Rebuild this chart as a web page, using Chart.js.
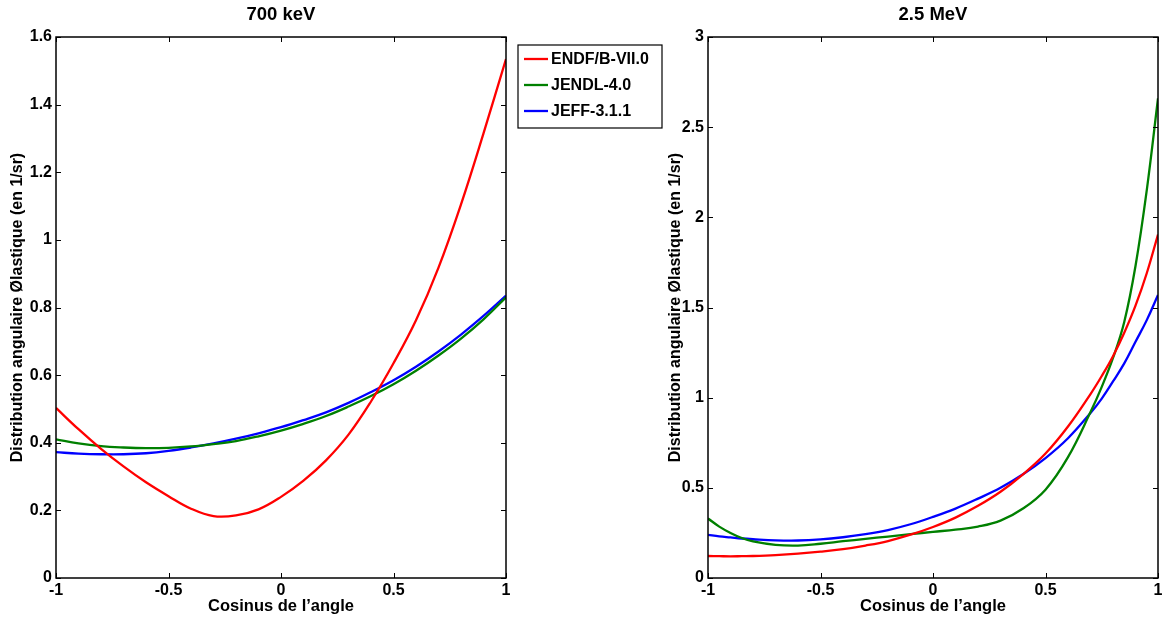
<!DOCTYPE html>
<html>
<head>
<meta charset="utf-8">
<script src="https://cdn.jsdelivr.net/npm/chart.js@4/dist/chart.umd.min.js"></script>
<style>
  body { margin: 0; background: #fff; }
  .wrap { position: absolute; top: 0; height: 621px; }
</style>
</head>
<body>
<div class="wrap" style="left:0;width:670px"><canvas id="left"></canvas></div>
<div class="wrap" style="left:660px;width:506px"><canvas id="right"></canvas></div>
<script>
// 700 keV
const cosLeft = [-1, -0.9, -0.8, -0.7, -0.6, -0.5, -0.4, -0.3, -0.2, -0.1, 0, 0.1, 0.2, 0.3, 0.4, 0.5, 0.6, 0.7, 0.8, 0.9, 1];
const endfLeft = [0.503, 0.44, 0.382, 0.33, 0.283, 0.242, 0.205, 0.183, 0.185, 0.203, 0.24, 0.288, 0.348, 0.424, 0.522, 0.635, 0.762, 0.918, 1.105, 1.315, 1.535];
const jendlLeft = [0.41, 0.398, 0.39, 0.386, 0.384, 0.385, 0.389, 0.396, 0.405, 0.419, 0.436, 0.456, 0.479, 0.507, 0.538, 0.573, 0.613, 0.658, 0.708, 0.765, 0.83];
const jeffLeft = [0.372, 0.368, 0.366, 0.366, 0.369, 0.376, 0.386, 0.398, 0.412, 0.428, 0.446, 0.467, 0.49, 0.518, 0.55, 0.585, 0.625, 0.67, 0.72, 0.775, 0.835];

// 2.5 MeV
const cosRight = [-1, -0.95, -0.9, -0.85, -0.8, -0.7, -0.6, -0.5, -0.4, -0.3, -0.2, -0.1, 0, 0.1, 0.2, 0.3, 0.4, 0.5, 0.6, 0.7, 0.75, 0.8, 0.85, 0.9, 0.95, 1];
const endfRight = [0.122, 0.121, 0.12, 0.121, 0.122, 0.127, 0.135, 0.146, 0.16, 0.18, 0.205, 0.24, 0.283, 0.335, 0.4, 0.478, 0.575, 0.69, 0.84, 1.02, 1.12, 1.23, 1.36, 1.51, 1.69, 1.905];
const jendlRight = [0.33, 0.285, 0.25, 0.222, 0.203, 0.184, 0.18, 0.19, 0.204, 0.217, 0.23, 0.243, 0.256, 0.268, 0.285, 0.318, 0.385, 0.49, 0.67, 0.92, 1.06, 1.22, 1.42, 1.73, 2.15, 2.66];
const jeffRight = [0.239, 0.231, 0.225, 0.219, 0.215, 0.209, 0.208, 0.214, 0.226, 0.243, 0.266, 0.298, 0.339, 0.385, 0.44, 0.5, 0.575, 0.665, 0.775, 0.915, 0.995, 1.09, 1.19, 1.31, 1.43, 1.57];

const seriesNames = ['ENDF/B-VII.0', 'JENDL-4.0', 'JEFF-3.1.1'];
const seriesColors = ['#ff0000', '#008000', '#0000ff'];

const FONT = 'Liberation Sans, Arial, Helvetica, sans-serif';

function toPoints(xs, ys) {
  return xs.map((x, i) => ({ x: x, y: ys[i] }));
}

function makeDatasets(xs, lists) {
  return lists.map((ys, i) => ({
    label: seriesNames[i],
    data: toPoints(xs, ys),
    borderColor: seriesColors[i],
    borderWidth: 2.3,
    pointRadius: 0,
    fill: false,
    tension: 0.4
  }));
}

// strip trailing zeros like matlab does (1 not 1.0)
const fmt = v => String(Math.round(v * 100) / 100);

// matlab-like frame : box, inward ticks, title, optional legend
const frame = {
  id: 'frame',
  afterDraw(chart, args, opts) {
    const { ctx, chartArea: a, scales } = chart;
    ctx.save();
    ctx.strokeStyle = '#000';
    ctx.lineWidth = 1;
    ctx.beginPath();
    scales.x.ticks.forEach(t => {
      const px = Math.round(scales.x.getPixelForValue(t.value)) + 0.5;
      ctx.moveTo(px, a.bottom); ctx.lineTo(px, a.bottom - 5);
      ctx.moveTo(px, a.top); ctx.lineTo(px, a.top + 5);
    });
    scales.y.ticks.forEach(t => {
      const py = Math.round(scales.y.getPixelForValue(t.value)) + 0.5;
      ctx.moveTo(a.left, py); ctx.lineTo(a.left + 5, py);
      ctx.moveTo(a.right, py); ctx.lineTo(a.right - 5, py);
    });
    ctx.stroke();
    ctx.lineWidth = 1.5;
    ctx.strokeRect(a.left, a.top, a.right - a.left, a.bottom - a.top);

    ctx.fillStyle = '#000';
    ctx.font = 'bold 18.5px ' + FONT;
    ctx.textAlign = 'center';
    ctx.textBaseline = 'middle';
    ctx.fillText(opts.text, (a.left + a.right) / 2, 15);

    if (opts.legend) {
      const lx = a.right + 12, ly = 45;
      ctx.lineWidth = 1.2;
      ctx.strokeRect(lx, ly, 144, 83);
      ctx.font = 'bold 16px ' + FONT;
      ctx.textAlign = 'left';
      chart.data.datasets.forEach((ds, i) => {
        const y = ly + 14 + i * 26;
        ctx.strokeStyle = ds.borderColor;
        ctx.lineWidth = 2.3;
        ctx.beginPath();
        ctx.moveTo(lx + 6, y); ctx.lineTo(lx + 30, y);
        ctx.stroke();
        ctx.fillText(ds.label, lx + 33, y + 1);
      });
    }
    ctx.restore();
  }
};

function makeChart(id, xs, lists, yMax, yStep, yWidth, padRight, yTitlePad, title, legend) {
  return new Chart(document.getElementById(id), {
    type: 'line',
    data: { datasets: makeDatasets(xs, lists) },
    options: {
      responsive: true,
      maintainAspectRatio: false,
      animation: false,
      layout: { padding: { top: 37, right: padRight, left: 0, bottom: 0 } },
      plugins: {
        legend: { display: false },
        tooltip: { enabled: false },
        frame: { text: title, legend: legend }
      },
      scales: {
        x: {
          type: 'linear',
          min: -1, max: 1,
          grid: { display: false, drawTicks: false },
          border: { display: false },
          ticks: {
            stepSize: 0.5, padding: 3, color: '#000',
            font: { family: FONT, size: 16, weight: 'bold' },
            callback: fmt
          },
          title: {
            display: true, text: 'Cosinus de l\u2019angle', color: '#000',
            font: { family: FONT, size: 16.5, weight: 'bold' },
            padding: { top: 0, bottom: 5 }
          },
          afterFit: s => { s.height = 43; }
        },
        y: {
          min: 0, max: yMax,
          grid: { display: false, drawTicks: false },
          border: { display: false },
          ticks: {
            stepSize: yStep, padding: 4, color: '#000',
            font: { family: FONT, size: 16, weight: 'bold' },
            callback: fmt
          },
          title: {
            display: true, text: 'Distribution angulaire \u00d8lastique (en 1/sr)', color: '#000',
            font: { family: FONT, size: 16, weight: 'bold' },
            padding: { top: yTitlePad, bottom: 0 }
          },
          afterFit: s => { s.width = yWidth; }
        }
      }
    },
    plugins: [frame]
  });
}

makeChart('left', cosLeft, [endfLeft, jendlLeft, jeffLeft], 1.6, 0.2, 56, 164, 8, '700 keV', true);
makeChart('right', cosRight, [endfRight, jendlRight, jeffRight], 3, 0.5, 48, 8, 6, '2.5 MeV', false);
</script>
</body>
</html>
